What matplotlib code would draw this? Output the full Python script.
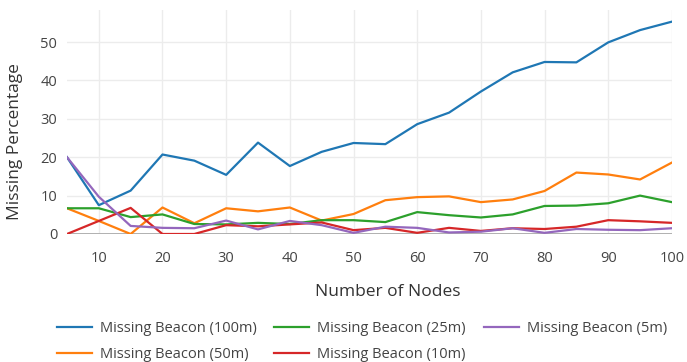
import numpy as np
import matplotlib.pyplot as plt

plt.rcParams['font.family'] = ['Open Sans', 'DejaVu Sans']

# data
nodes = [5, 10, 15, 20, 25, 30, 35, 40, 45, 50, 55, 60, 65, 70, 75, 80, 85, 90, 95, 100]
beacon_100m = [20.0, 7.5, 11.3, 20.7, 19.1, 15.4, 23.8, 17.7, 21.4, 23.7, 23.4, 28.6, 31.6, 37.1,
               42.1, 44.8, 44.7, 49.9, 53.1, 55.3]
beacon_50m = [6.7, 3.4, 0.0, 6.9, 2.8, 6.7, 5.9, 6.9, 3.5, 5.2, 8.8, 9.6, 9.8, 8.3,
              9.0, 11.2, 16.0, 15.5, 14.2, 18.6]
beacon_25m = [6.7, 6.7, 4.4, 5.1, 2.6, 2.5, 2.9, 2.6, 3.6, 3.6, 3.1, 5.7, 4.9, 4.3,
              5.1, 7.3, 7.4, 8.0, 10.0, 8.3]
beacon_10m = [0.0, 3.4, 6.8, 0.0, 0.0, 2.3, 2.0, 2.5, 3.0, 1.0, 1.6, 0.3, 1.6, 0.8,
              1.5, 1.3, 1.9, 3.6, 3.3, 2.9]
beacon_5m = [20.0, 9.7, 2.1, 1.6, 1.5, 3.5, 1.2, 3.4, 2.3, 0.3, 1.9, 1.6, 0.4, 0.6,
             1.5, 0.3, 1.3, 1.1, 1.0, 1.5]

# ordered so the 3-column legend reads row-wise like the original
series = [
    ("Missing Beacon (100m)", beacon_100m, "#1f77b4"),
    ("Missing Beacon (50m)", beacon_50m, "#ff7f0e"),
    ("Missing Beacon (25m)", beacon_25m, "#2ca02c"),
    ("Missing Beacon (10m)", beacon_10m, "#d62728"),
    ("Missing Beacon (5m)", beacon_5m, "#9467bd"),
]
x_ticks = [10, 20, 30, 40, 50, 60, 70, 80, 90, 100]
y_ticks = [0, 10, 20, 30, 40, 50]

fig = plt.figure(figsize=(6.87, 3.62), dpi=100)
ax = fig.add_axes([0.0975, 0.3536, 0.8805, 0.6184])

for label, vals, color in series:
    ax.plot(nodes, vals, color=color, linewidth=1.6, label=label, zorder=3)

ax.set_xlim(5, 100)
ax.set_ylim(0, 58.3)
ax.set_xticks(x_ticks)
ax.set_yticks(y_ticks)
ax.grid(True, color="#ececec", linewidth=1, zorder=0)
ax.axhline(0, color="#aaaaaa", linewidth=2, zorder=2)
for s in ax.spines.values():
    s.set_visible(False)
ax.tick_params(length=0, labelsize=10.5, labelcolor="#444444")
ax.tick_params(axis="x", pad=12)
ax.tick_params(axis="y", pad=7)

ax.set_xlabel("Number of Nodes", fontsize=12.5, color="#333333")
ax.xaxis.set_label_coords(0.53, -0.225)
ax.set_ylabel("Missing Percentage", fontsize=12.5, color="#333333")
ax.yaxis.set_label_coords(-0.072, 0.415)

fig.legend(loc="upper left", bbox_to_anchor=(0.083, 0.112), ncol=3, frameon=False,
           fontsize=10.5, labelcolor="#444444", handlelength=2.4, columnspacing=1.2,
           handletextpad=0.55, labelspacing=0.7, borderaxespad=0, borderpad=0)

fig.savefig("out.png", dpi=100)
